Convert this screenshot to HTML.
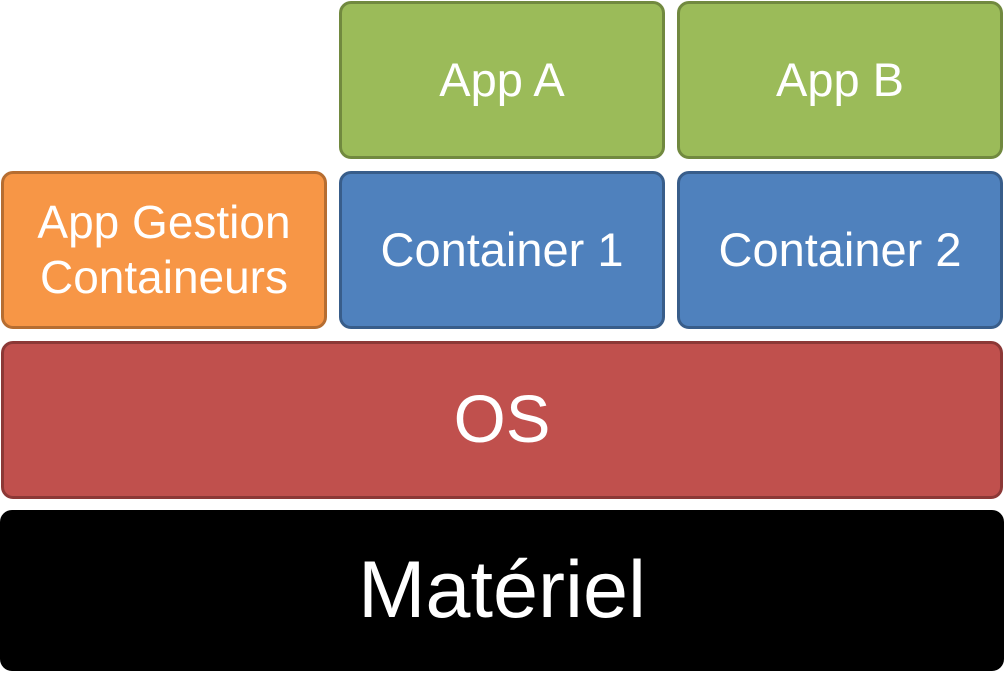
<!DOCTYPE html>
<html><head><meta charset="utf-8"><style>
html,body{margin:0;padding:0;width:1004px;height:690px;background:#fff;overflow:hidden}
.b{position:absolute;box-sizing:border-box;border:3px solid;border-radius:12px;display:flex;align-items:center;justify-content:center;text-align:center;color:#fff;font-family:"Liberation Sans",sans-serif;line-height:1.2}
.g{background:#9BBB59;border-color:#71893F;font-size:47px}
.bl{background:#4F81BD;border-color:#385D8A;font-size:47px}
.o{background:#F79646;border-color:#B66D31;font-size:46px}
.r{background:#C0504D;border-color:#8C3836;font-size:67px}
.k{background:#000;border-color:#000;font-size:81px}
</style></head><body>
<div class="b g" style="left:339px;top:1px;width:326px;height:158px">App A</div>
<div class="b g" style="left:677px;top:1px;width:326px;height:158px">App B</div>
<div class="b o" style="left:1px;top:171px;width:326px;height:158px">App Gestion<br>Containeurs</div>
<div class="b bl" style="left:339px;top:171px;width:326px;height:158px">Container 1</div>
<div class="b bl" style="left:677px;top:171px;width:326px;height:158px">Container 2</div>
<div class="b r" style="left:1px;top:341px;width:1002px;height:158px">OS</div>
<div class="b k" style="left:0px;top:510px;width:1004px;height:161px">Matériel</div>
</body></html>
